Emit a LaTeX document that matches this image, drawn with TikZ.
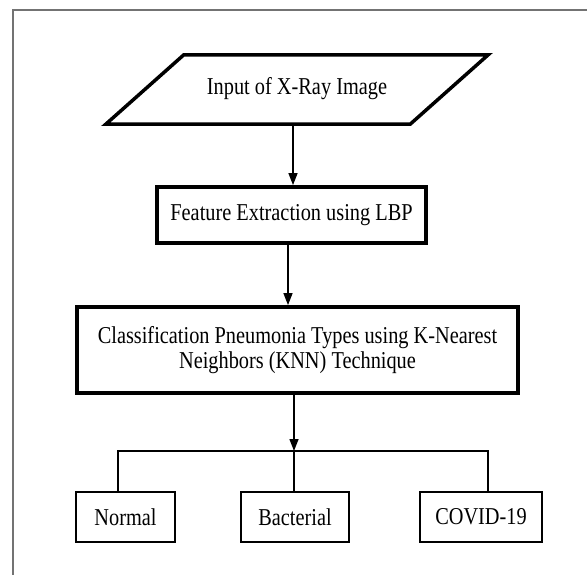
\documentclass[tikz,border=0pt]{standalone}
\usepackage{fontspec}
\setmainfont{Liberation Serif}[FakeStretch=0.84]
\usetikzlibrary{arrows.meta}
\begin{document}
\begin{tikzpicture}[x=1pt,y=-1pt,
  every node/.style={font=\fontsize{24.2}{25}\selectfont, inner sep=0pt},
  mainbox/.style={draw, line width=3.8pt, align=center},
  leafbox/.style={draw, line width=2.2pt, minimum height=50pt},
  conn/.style={line width=1.4pt},
  arr/.style={conn, -{Triangle[length=12pt,width=9pt]}},
  frameline/.style={draw=black!55, line width=1.5pt}]
\useasboundingbox (0,0) rectangle (587,575);
\draw[frameline] (13,575) -- (13,10) -- (587,10);
% input parallelogram
\node[minimum width=226pt, minimum height=69pt] (in) at (297,89.5) {\raisebox{7pt}{Input of X-Ray Image}};
\draw[line width=3.5pt, line join=miter]
  (in.north west) -- ([xshift=78pt]in.north east) -- (in.south east)
  -- ([xshift=-78pt]in.south west) -- cycle;
% process boxes
\node[mainbox, minimum width=269pt, minimum height=56pt] (b2) at (291.5,215) {Feature Extraction using LBP};
\node[mainbox, minimum width=441pt, minimum height=86pt] (b3) at (297.5,350)
  {Classification Pneumonia Types using K-Nearest\\Neighbors (KNN) Technique};
% leaves
\node[leafbox, minimum width=99pt] (n1) at (125.5,517) {Normal};
\node[leafbox, minimum width=108pt] (n2) at (295,517) {Bacterial};
\node[leafbox, minimum width=122pt] (n3) at (481,517) {COVID-19};
% connectors
\coordinate (jl) at (118,451);
\coordinate (jm) at (294,451);
\coordinate (jr) at (488,451);
\draw[arr] ([xshift=1.5pt]b2.north |- in.south) -- ([xshift=1.5pt]b2.north);
\draw[arr] ([xshift=-3.5pt]b2.south) -- ([xshift=-3.5pt]b2.south |- b3.north);
\draw[arr] (b3.south -| jm) -- (jm);
\draw[conn] (n1.north -| jl) -- (jl) -- (jr) -- (n3.north -| jr);
\draw[conn] (jm) -- (n2.north -| jm);
\end{tikzpicture}
\end{document}
